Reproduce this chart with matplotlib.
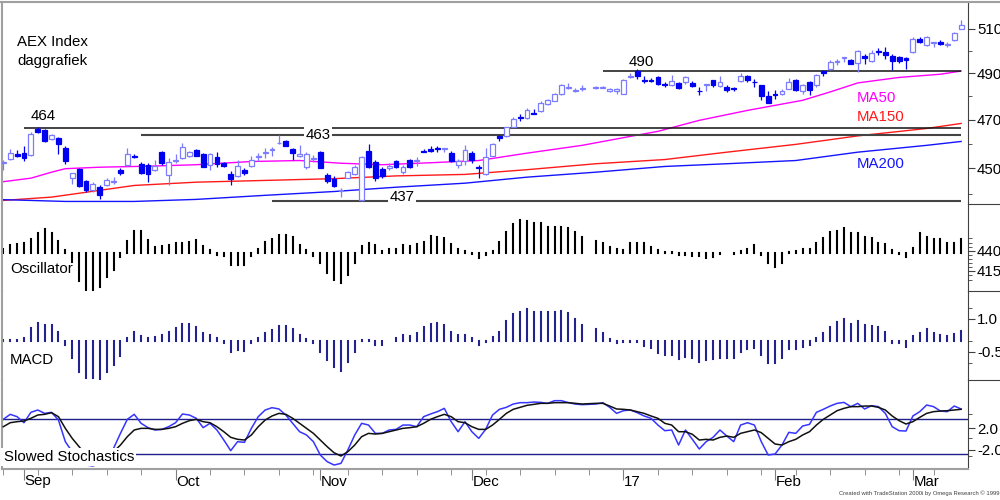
import numpy as np
import pandas as pd
import matplotlib
matplotlib.use("Agg")
import matplotlib.pyplot as plt
import matplotlib.transforms as mtrans
from matplotlib.patches import Rectangle
from matplotlib.lines import Line2D
from matplotlib.ticker import NullFormatter

plt.rcParams["font.family"] = ["Liberation Sans", "DejaVu Sans"]

nan = np.nan
dates = pd.bdate_range("2016-08-29", "2017-03-10")  # 140 weekdays, Dec 26 has no data

opens = [452.3, 453.9, 456.0, 456.2, 455.5, 466.0, 465.6, 462.1, 462.4, 458.3,
         446.2, 449.9, 444.8, 441.2, 442.5, 443.2, 444.4, 449.2, 451.5, 455.2,
         451.9, 451.5, 449.2, 456.6, 447.2, 453.0, 454.2, 455.0, 457.6, 455.8,
         451.3, 454.7, 452.3, 447.9, 447.0, 449.2, 450.9, 454.5, 456.2, 457.4,
         460.3, 461.0, 458.0, 454.9, 450.7, 453.7, 456.6, 447.5, 445.9, 441.0,
         446.3, 447.7, 437.3, 457.0, 452.8, 449.9, 450.0, 452.9, 448.5, 453.5,
         453.0, 457.1, 458.1, 458.2, 458.1, 456.4, 451.5, 452.9, 456.4, 450.5,
         447.9, 455.2, 463.2, 463.1, 467.2, 471.0, 470.8, 473.0, 473.7, 476.8,
         478.0, 480.9, 483.8, 482.2, 483.1, nan, 483.5, 483.8, 482.2, 482.3,
         481.1, 488.5, 491.0, 487.1, 487.1, 488.2, 485.4, 484.7, 485.7, 486.2,
         485.7, 482.5, 485.0, 486.9, 484.4, 484.2, 483.4, 486.6, 488.8, 486.4,
         484.7, 480.0, 481.1, 480.8, 483.3, 486.9, 482.3, 486.2, 484.7, 490.9,
         491.7, 495.1, 496.8, 495.7, 494.5, 497.5, 495.3, 499.7, 499.5, 497.8,
         497.2, 496.8, 499.3, 505.2, 502.5, 503.6, 504.0, 502.8, 504.7, 510.0]
highs = [453.6, 457.7, 457.3, 459.0, 464.9, 467.0, 466.0, 464.2, 462.8, 459.1,
         448.3, 450.2, 445.5, 444.5, 443.5, 446.2, 446.5, 450.1, 458.4, 456.0,
         452.5, 452.0, 453.5, 457.0, 454.3, 456.0, 460.3, 457.2, 458.0, 456.3,
         456.3, 456.5, 452.8, 448.8, 453.5, 450.0, 455.2, 456.3, 458.3, 458.9,
         463.5, 461.5, 458.5, 459.7, 456.5, 455.5, 457.0, 448.0, 447.0, 442.0,
         449.0, 451.5, 455.0, 459.8, 453.5, 450.5, 452.0, 453.5, 451.3, 454.0,
         454.5, 458.0, 459.3, 459.0, 458.4, 457.0, 453.7, 459.4, 457.0, 451.3,
         458.4, 460.5, 463.6, 467.2, 471.0, 472.5, 475.0, 474.5, 478.0, 478.8,
         481.3, 485.2, 485.7, 483.5, 484.7, nan, 484.3, 484.6, 483.4, 483.6,
         487.3, 490.0, 491.8, 488.8, 488.0, 488.8, 486.2, 489.1, 486.4, 488.9,
         486.5, 484.0, 485.5, 487.2, 489.0, 484.7, 484.0, 490.0, 489.2, 487.3,
         485.0, 482.2, 482.9, 483.0, 487.8, 487.5, 485.2, 486.8, 489.6, 491.3,
         496.0, 496.3, 497.2, 496.2, 500.2, 498.5, 500.3, 501.4, 501.8, 498.5,
         497.6, 497.2, 506.0, 506.0, 506.7, 503.9, 504.8, 504.1, 508.5, 513.9]
lows = [449.2, 453.5, 454.7, 452.9, 455.0, 464.5, 460.8, 461.8, 455.7, 451.9,
        443.8, 442.7, 440.8, 440.5, 438.0, 442.8, 443.8, 447.5, 451.0, 454.3,
        447.8, 444.5, 448.8, 451.5, 443.2, 452.0, 454.0, 454.7, 455.0, 450.4,
        449.2, 450.7, 450.5, 443.2, 446.5, 447.3, 450.5, 453.2, 454.3, 455.0,
        460.0, 459.0, 453.5, 454.5, 449.7, 452.5, 450.0, 444.0, 442.5, 438.8,
        446.0, 447.3, 437.0, 450.0, 445.0, 446.3, 449.5, 450.0, 447.9, 450.0,
        451.0, 456.5, 456.7, 456.5, 456.5, 452.5, 450.0, 451.5, 452.0, 446.3,
        447.5, 455.0, 461.0, 462.8, 466.8, 469.6, 470.3, 472.4, 473.3, 476.5,
        477.8, 480.5, 483.0, 481.8, 482.5, nan, 483.2, 483.5, 481.9, 481.2,
        480.8, 488.0, 487.7, 485.6, 486.2, 484.8, 483.9, 484.3, 483.0, 485.2,
        484.2, 480.6, 482.5, 484.0, 484.0, 481.8, 482.5, 486.2, 486.0, 484.0,
        478.5, 477.0, 479.0, 480.5, 483.0, 482.3, 481.0, 480.5, 484.0, 488.8,
        491.3, 493.7, 495.0, 493.9, 490.6, 494.3, 494.9, 498.0, 496.4, 491.3,
        494.5, 492.0, 499.0, 503.5, 502.0, 501.8, 502.5, 501.6, 504.3, 509.8]
closes = [452.7, 456.2, 455.0, 454.3, 464.2, 465.0, 461.2, 463.8, 459.8, 452.9,
          448.1, 442.9, 441.2, 443.8, 439.6, 445.2, 445.0, 448.1, 456.0, 454.8,
          448.3, 447.9, 450.9, 452.1, 452.8, 453.4, 458.9, 456.6, 455.2, 450.7,
          455.8, 451.7, 451.1, 445.6, 451.1, 448.1, 453.5, 455.0, 456.8, 457.9,
          460.4, 459.3, 456.4, 456.0, 456.0, 454.1, 450.3, 444.8, 442.9, 441.4,
          448.5, 450.7, 454.6, 450.7, 446.3, 446.8, 451.0, 450.4, 450.7, 450.7,
          453.4, 456.7, 456.9, 457.8, 458.3, 452.9, 452.9, 457.6, 453.5, 450.1,
          454.6, 459.8, 462.4, 466.8, 470.5, 470.6, 474.3, 472.6, 477.1, 478.3,
          480.9, 484.7, 484.2, 482.9, 483.5, nan, 483.9, 484.2, 483.1, 483.3,
          486.9, 488.9, 488.8, 486.7, 486.7, 485.2, 485.0, 486.6, 483.7, 488.5,
          484.6, 482.1, 485.4, 484.7, 486.2, 482.9, 483.0, 488.8, 486.9, 486.0,
          480.0, 477.2, 480.7, 482.3, 486.2, 482.6, 484.7, 482.6, 489.1, 490.1,
          494.9, 495.5, 497.2, 494.3, 499.8, 496.6, 499.1, 499.3, 498.0, 495.3,
          495.3, 495.7, 505.5, 503.8, 506.2, 503.8, 503.0, 503.2, 508.0, 511.5]

# moving averages, read at these bar positions
ma50_idx = [0, 4, 7, 9, 14, 21, 28, 36, 43, 49, 55, 62, 69, 76, 84, 91, 95, 101, 108, 116, 120, 124, 130, 136, 139]
ma50 = [444.7, 446.1, 448.5, 449.9, 450.5, 450.9, 451.5, 452.8, 453.2, 452.1, 451.5, 452.3, 453.2,
        456.2, 459.4, 463.1, 465.2, 469.8, 474.0, 478.3, 481.9, 485.8, 488.2, 489.6, 491.0]
ma150_idx = [0, 7, 12, 19, 28, 38, 48, 57, 67, 76, 86, 96, 105, 115, 124, 134, 139]
ma150 = [437.3, 438.6, 440.5, 443.2, 444.5, 445.2, 445.9, 447.0, 447.6, 449.5, 451.9, 453.6,
         456.6, 459.8, 463.3, 466.4, 468.5]
ma200_idx = [0, 9, 19, 28, 38, 48, 57, 67, 76, 86, 96, 105, 115, 124, 134, 139]
ma200 = [437.6, 436.9, 436.9, 437.7, 439.3, 440.8, 442.5, 444.1, 446.5, 448.5, 450.8, 451.9,
         453.2, 456.6, 459.4, 461.0]

# support / resistance lines
level_vals = [466.7, 463.5, 437.0, 490.8]
level_start = [3, 20, 39, 87]
level_labels = ["464", "463", "437", "490"]

osc = [3.3, 7.7, 8.7, 9.3, 13.3, 19.3, 23.3, 20.0, 12.0, 2.7,
       -9.0, -28.0, -37.3, -38.3, -34.0, -24.0, -17.3, -4.0, 12.0, 22.0,
       22.0, 12.7, 6.0, 6.7, 7.7, 9.3, 10.0, 11.0, 12.7, 6.7,
       2.7, -2.3, -3.3, -12.3, -12.3, -12.3, -3.3, 3.3, 11.0, 13.3,
       17.7, 17.7, 15.3, 7.7, 2.7, -3.3, -10.0, -20.0, -27.3, -30.7,
       -22.3, -10.7, 6.7, 10.0, 7.7, 2.0, 3.3, 3.3, 7.7, 6.7,
       8.3, 11.0, 16.7, 15.3, 14.3, 8.7, 3.3, 2.0, -1.3, -5.7,
       -2.0, 1.5, 11.0, 21.0, 28.7, 32.7, 32.0, 30.0, 29.3, 25.3,
       25.3, 25.3, 24.3, 21.0, 16.0, nan, 12.0, 10.0, 5.3, 3.3,
       2.7, 9.3, 10.0, 9.3, 6.0, 2.7, 1.0, 1.0, -2.3, -2.3,
       -3.3, -3.3, -5.7, -4.0, -1.3, -0.7, -1.3, 2.0, 3.3, 7.7,
       -2.3, -10.7, -14.7, -10.7, 0.5, 2.0, 3.3, 3.3, 9.3, 14.3,
       21.0, 22.0, 24.3, 20.0, 20.0, 15.3, 14.3, 9.3, 8.7, 2.7,
       -1.3, -4.7, 4.3, 20.0, 16.0, 13.3, 13.3, 9.3, 10.0, 13.3]
osc_ticks = [1.7, -18.3]
osc_ticklabels = ["440", "415"]

macd = [0.03, 0.02, 0.03, 0.11, 0.56, 0.79, 0.71, 0.71, 0.41, -0.20,
        -0.80, -1.41, -1.71, -1.71, -1.79, -1.41, -1.11, -0.70, 0.11, 0.41,
        0.21, 0.11, 0.18, 0.26, 0.41, 0.56, 0.74, 0.74, 0.64, 0.33,
        0.26, 0.11, -0.12, -0.50, -0.42, -0.45, -0.12, 0.14, 0.33, 0.48,
        0.67, 0.67, 0.52, 0.26, 0.06, -0.12, -0.50, -0.88, -1.18, -1.38,
        -0.95, -0.50, 0.02, 0.02, -0.20, -0.20, -0.02, 0.11, 0.26, 0.21,
        0.36, 0.64, 0.76, 0.79, 0.71, 0.41, 0.26, 0.26, 0.11, -0.20,
        -0.05, 0.18, 0.41, 0.91, 1.20, 1.32, 1.42, 1.32, 1.32, 1.32,
        1.32, 1.36, 1.24, 0.97, 0.71, nan, 0.53, 0.36, 0.06, -0.09,
        -0.06, -0.06, -0.06, -0.24, -0.35, -0.55, -0.67, -0.67, -0.85, -0.73,
        -0.77, -0.95, -0.88, -0.85, -0.77, -0.77, -0.77, -0.50, -0.39, -0.35,
        -0.65, -1.00, -1.00, -0.77, -0.39, -0.39, -0.27, -0.20, 0.11, 0.33,
        0.64, 0.83, 0.97, 0.76, 0.91, 0.71, 0.67, 0.64, 0.41, -0.09,
        -0.12, -0.27, 0.21, 0.36, 0.52, 0.36, 0.26, 0.21, 0.30, 0.45]

stoch_k = [70.0, 77.3, 73.9, 65.1, 80.2, 83.6, 78.7, 80.2, 69.0, 37.5,
           22.9, 10.8, 3.5, 2.1, 5.9, 13.2, 27.8, 49.6, 70.0, 77.3,
           64.2, 57.9, 54.5, 55.4, 59.3, 65.1, 77.8, 76.3, 71.5, 57.9,
           64.2, 54.5, 39.9, 24.4, 37.5, 36.5, 56.9, 73.9, 83.6, 87.0,
           85.1, 76.3, 64.2, 52.0, 47.2, 37.5, 18.1, 8.4, 3.5, 5.9,
           25.4, 47.2, 64.2, 61.7, 49.6, 49.6, 54.5, 55.4, 61.7, 61.7,
           59.3, 73.9, 77.8, 81.2, 86.0, 66.6, 52.0, 66.6, 52.0, 42.3,
           55.4, 76.3, 84.6, 87.5, 92.3, 94.3, 94.3, 95.2, 94.7, 93.3,
           97.2, 97.2, 94.3, 92.3, 91.4, nan, 92.3, 94.3, 87.5, 78.7,
           82.6, 83.6, 79.7, 74.9, 71.5, 61.7, 53.5, 54.5, 32.6, 54.5,
           40.9, 26.8, 37.5, 43.8, 54.5, 45.7, 37.5, 61.7, 65.1, 61.7,
           37.5, 18.1, 19.5, 32.6, 51.1, 49.6, 60.3, 62.7, 80.2, 84.6,
           89.4, 93.3, 94.7, 88.5, 93.3, 85.1, 89.9, 88.5, 78.7, 59.3,
           53.5, 53.0, 74.9, 81.2, 90.9, 88.5, 82.1, 81.2, 89.4, 85.1]
stoch_d = [59.3, 65.1, 66.6, 67.6, 71.5, 76.3, 77.3, 79.7, 73.9, 56.9,
           42.3, 30.2, 18.1, 10.8, 8.4, 13.2, 22.9, 32.6, 44.8, 54.5,
           56.9, 56.9, 55.4, 55.4, 56.9, 59.3, 64.2, 68.1, 70.0, 66.6,
           65.1, 59.3, 52.0, 43.8, 40.9, 39.9, 47.2, 59.3, 69.0, 74.9,
           78.7, 77.3, 71.5, 64.2, 56.9, 49.6, 39.9, 30.2, 21.4, 16.6,
           22.9, 32.6, 44.8, 49.6, 48.6, 49.6, 52.0, 54.5, 56.9, 57.9,
           59.3, 64.2, 70.0, 73.9, 77.3, 73.9, 66.6, 65.1, 59.3, 55.4,
           55.4, 61.7, 70.0, 78.7, 84.6, 87.5, 90.4, 91.8, 93.3, 93.3,
           94.3, 94.3, 94.3, 93.3, 92.3, nan, 93.3, 93.3, 89.4, 85.1,
           84.6, 83.6, 81.2, 78.7, 74.9, 71.5, 64.2, 61.7, 52.0, 52.0,
           48.2, 39.9, 40.9, 39.9, 43.8, 45.7, 43.8, 49.6, 52.0, 54.5,
           50.6, 42.3, 34.1, 32.6, 37.5, 40.9, 47.2, 52.0, 61.7, 70.0,
           76.3, 82.6, 86.0, 88.5, 88.5, 89.4, 89.4, 87.5, 83.6, 74.9,
           68.1, 63.2, 66.6, 72.9, 78.7, 81.2, 82.1, 82.6, 83.6, 84.6]
stoch_levels = [70, 20]
stoch_ticks = [56.9, 25.4]
stoch_ticklabels = ["2.0", "-2.0"]

month_labels = ["Sep", "Oct", "Nov", "Dec", "17", "Feb", "Mar"]

# ---------------------------------------------------------------
W, H = 1000, 500
L, R = 2, 968
P = [2, 204, 291, 380, 469]
x = np.arange(len(dates))
up_col, dn_col = "#7c7cff", "#0000f0"

fig = plt.figure(figsize=(W / 100, H / 100), dpi=100)


def panel(top, bot):
    ax = fig.add_axes([L / W, 1 - bot / H, (R - L) / W, (bot - top) / H])
    ax.set_xlim(-0.19, 140.0)
    for s in ("top", "bottom"):
        ax.spines[s].set_visible(False)
    ax.spines["left"].set_color("#a0a0a0")
    ax.spines["left"].set_linewidth(1.5)
    ax.spines["right"].set_color("#404040")
    ax.yaxis.tick_right()
    ax.tick_params(axis="y", which="both", direction="out", color="#404040",
                   labelcolor="black", labelsize=10.8, pad=1.5)
    ax.tick_params(axis="y", which="major", length=5)
    ax.tick_params(axis="y", which="minor", length=3)
    ax.set_xticks([])
    ax.patch.set_alpha(0)
    return ax


# price panel
axp = panel(P[0], P[1])
axp.set_yscale("log")
axp.set_ylim(435.9, 522.3)
axp.set_yticks([450, 470, 490, 510], labels=["450", "470", "490", "510"])
axp.set_yticks([440, 460, 480, 500], minor=True)
axp.yaxis.set_minor_formatter(NullFormatter())

bw = 0.7
for i in range(len(x)):
    o, h, l, c = opens[i], highs[i], lows[i], closes[i]
    if np.isnan(o):
        continue
    up = c >= o
    col = up_col if up else dn_col
    axp.vlines(i, l, h, color=col, lw=0.9, zorder=2)
    lo, hi = min(o, c), max(o, c)
    axp.add_patch(Rectangle((i - bw / 2, lo), bw, hi - lo, facecolor="white" if up else col,
                            edgecolor=col, lw=0.9, zorder=3))

axp.plot(ma50_idx, ma50, color="#ff00ff", lw=1.0, zorder=1)
axp.plot(ma150_idx, ma150, color="#ff1a1a", lw=1.0, zorder=1)
axp.plot(ma200_idx, ma200, color="#1414ff", lw=1.0, zorder=1)

lvl_style = [("#111111", 1.1), ("#444444", 1.5), ("#444444", 1.5), ("#111111", 1.1)]
for v, s, (c, lw) in zip(level_vals, level_start, lvl_style):
    axp.hlines(v, s, 139.0, color=c, lw=lw, zorder=1)

axp.text(4.0, 471.5, level_labels[0], fontsize=10.8, va="center", ha="left")
axp.text(43.9, 463.5, level_labels[1], fontsize=10.8, va="center", ha="left", zorder=5,
         bbox=dict(facecolor="white", edgecolor="none", pad=1.0))
axp.text(56.0, 438.6, level_labels[2], fontsize=10.8, va="center", ha="left", zorder=5,
         bbox=dict(facecolor="white", edgecolor="none", pad=1.0))
axp.text(90.8, 495.1, level_labels[3], fontsize=10.8, va="center", ha="left")

axp.text(123.8, 479.3, "MA50", color="#ff00ff", fontsize=10.8, va="center")
axp.text(123.8, 471.0, "MA150", color="#ff1a1a", fontsize=10.8, va="center")
axp.text(123.8, 451.9, "MA200", color="#1414ff", fontsize=10.8, va="center")

# oscillator panel
axo = panel(P[1], P[2])
axo.set_ylim(-38.3, 48.7)
axo.set_yticks(osc_ticks, labels=osc_ticklabels)
axo.set_yticks([14.4, 9.4, 5.4, -2.3, -6.6, -10.6, -14.0, -22.3, -27.3], minor=True)
osc_a = np.array(osc)
ok = ~np.isnan(osc_a)
axo.vlines(x[ok], 0, osc_a[ok], color="black", lw=1.5, capstyle="projecting")

# macd panel
axm = panel(P[2], P[3])
axm.set_ylim(-1.79, 2.26)
axm.set_yticks([1.0, -0.5], labels=["1.0", "-0.5"])
axm.set_yticks([1.5, 0.0, -1.0], minor=True)
macd_a = np.array(macd)
ok = ~np.isnan(macd_a)
axm.vlines(x[ok], 0, macd_a[ok], color="#23238f", lw=1.5, capstyle="projecting")

# stochastics panel
axs = panel(P[3], P[4])
axs.set_ylim(-2.3, 127.3)
axs.set_yticks(stoch_ticks, labels=stoch_ticklabels)
axs.set_yticks([77.3, 42.3, 16.6], minor=True)
for lv in stoch_levels:
    axs.axhline(lv, color="#1f1f8a", lw=1.0, zorder=1)
k = np.array(stoch_k)
d = np.array(stoch_d)
ok = ~np.isnan(k)
axs.plot(x[ok], k[ok], color="#3535ff", lw=1.1, zorder=2)
axs.plot(x[ok], d[ok], color="#111111", lw=1.1, zorder=3)

axs.spines["bottom"].set_visible(True)
axs.spines["bottom"].set_color("#a0a0a0")
axs.spines["bottom"].set_linewidth(1.5)
month_idx = x[1:][dates.month[1:] != dates.month[:-1]]
monday_idx = x[dates.weekday == 0]
axs.set_xticks(month_idx, labels=[""] * len(month_idx))
axs.set_xticks(monday_idx, minor=True)
axs.tick_params(axis="x", which="major", direction="out", length=8, color="#808080")
axs.tick_params(axis="x", which="minor", direction="out", length=4, color="#808080")
tr = mtrans.blended_transform_factory(axs.transData, fig.transFigure)
for mi, lab in zip(month_idx, month_labels):
    axs.text(mi + 0.1, 1 - 481.5 / H, lab, transform=tr, fontsize=10.8, va="center", ha="left",
             clip_on=False)

# free texts
fig.text(17 / W, 1 - 42.5 / H, "AEX Index", fontsize=10.8, va="center")
fig.text(17 / W, 1 - 61.5 / H, "daggrafiek", fontsize=10.8, va="center")
fig.text(10 / W, 1 - 269 / H, "Oscillator", fontsize=10.8, va="center")
fig.text(10 / W, 1 - 360 / H, "MACD", fontsize=10.8, va="center")
fig.text(3.5 / W, 1 - 457 / H, "Slowed Stochastics", fontsize=10.8, va="center", zorder=5,
         bbox=dict(facecolor="white", edgecolor="none", pad=1.5))
fig.text(0.9995, 1 - 493 / H, "Created with TradeStation 2000i by Omega Research \u00a9 1999",
         fontsize=4.2, ha="right", va="center", color="#404040")

# frame pieces
fig.add_artist(Line2D([0, 1], [1 - 1.5 / H] * 2, color="#a0a0a0", lw=1.5))
for yb in P[1:4]:
    fig.add_artist(Line2D([R / W, 1], [1 - yb / H] * 2, color="#404040", lw=0.8))

fig.savefig("out.png", dpi=100)
